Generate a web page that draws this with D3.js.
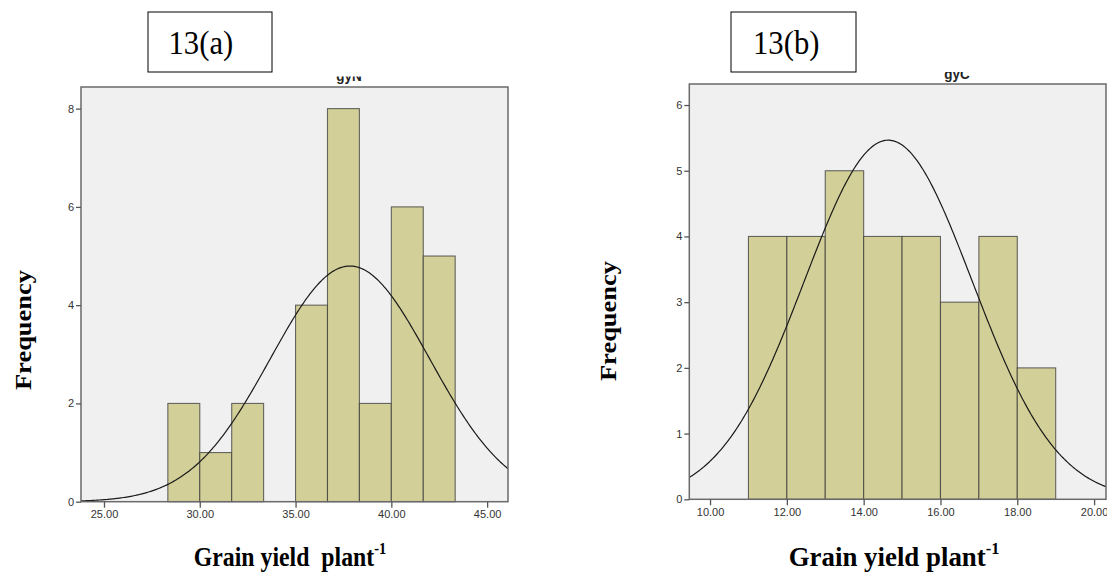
<!DOCTYPE html>
<html>
<head>
<meta charset="utf-8">
<script src="https://cdn.jsdelivr.net/npm/d3@7"></script>
<style>
  html, body { margin: 0; padding: 0; background: #fff; }
  svg { display: block; }
</style>
</head>
<body>
<svg id="chart" width="1107" height="572"></svg>
<script>
// Histogram (a): grain yield per plant, variable gyN
const binEdgesA = [28.333, 30.0, 31.667, 33.333, 35.0, 36.667, 38.333, 40.0, 41.667, 43.333];
const countsA = [2, 1, 2, 0, 4, 8, 2, 6, 5];
const xTicksA = [25, 30, 35, 40, 45];
const yTicksA = [0, 2, 4, 6, 8];
const normalA = { mean: 37.84, sd: 4.16, n: 30 };

// Histogram (b): grain yield per plant, variable gyC
const binEdgesB = [11, 12, 13, 14, 15, 16, 17, 18, 19];
const countsB = [4, 4, 5, 4, 4, 3, 4, 2];
const xTicksB = [10, 12, 14, 16, 18, 20];
const yTicksB = [0, 1, 2, 3, 4, 5, 6];
const normalB = { mean: 14.64, sd: 2.19, n: 30 };

const serif = "'Liberation Serif', 'Times New Roman', serif";
const sans = "Arial, 'Liberation Sans', sans-serif";
const svg = d3.select("#chart");

function drawPanel(cfg) {
  const { left, right, top, bottom, xDomain, yDomain, edges, counts, xTicks, yTicks, normal,
          title, titleX, titleY, titleClipTop, tag, tagBox, tagX, yLabelX, yLabelY,
          xLabelX, xLabelScale, clipId } = cfg;

  const x = d3.scaleLinear().domain(xDomain).range([left, right]);
  const y = d3.scaleLinear().domain(yDomain).range([bottom, top]);

  const g = svg.append("g");

  // plot background
  g.append("rect")
    .attr("x", left).attr("y", top)
    .attr("width", right - left).attr("height", bottom - top)
    .attr("fill", "#f0f0f0");

  // clip for bars and curve
  svg.append("clipPath").attr("id", clipId)
    .append("rect").attr("x", left).attr("y", top)
    .attr("width", right - left).attr("height", bottom - top);

  const bins = counts.map((c, i) => ({ x0: edges[i], x1: edges[i + 1], c }));
  g.append("g").selectAll("rect")
    .data(bins.filter(d => d.c > 0))
    .join("rect")
    .attr("x", d => x(d.x0))
    .attr("y", d => y(d.c))
    .attr("width", d => x(d.x1) - x(d.x0))
    .attr("height", d => y(0) - y(d.c))
    .attr("fill", "#d3cf98")
    .attr("stroke", "#3a3a3a")
    .attr("stroke-opacity", 0.75)
    .attr("stroke-width", 1.1);

  // fitted normal curve scaled to counts per bin
  const w = edges[1] - edges[0];
  const dens = v => normal.n * w / (normal.sd * Math.sqrt(2 * Math.PI)) *
    Math.exp(-0.5 * Math.pow((v - normal.mean) / normal.sd, 2));
  const pts = d3.range(xDomain[0], xDomain[1] + 0.001, (xDomain[1] - xDomain[0]) / 300);
  g.append("path")
    .datum(pts)
    .attr("clip-path", `url(#${clipId})`)
    .attr("fill", "none")
    .attr("stroke", "#1a1a1a")
    .attr("stroke-width", 1.2)
    .attr("d", d3.line().x(v => x(v)).y(v => y(dens(v))));

  // frame
  g.append("rect")
    .attr("x", left).attr("y", top)
    .attr("width", right - left).attr("height", bottom - top)
    .attr("fill", "none")
    .attr("stroke", "#6a6a6a")
    .attr("stroke-width", 1.5);

  // axes
  const yAxis = d3.axisLeft(y).tickValues(yTicks).tickSize(5).tickPadding(2).tickFormat(d3.format("d"));
  const yg = g.append("g").attr("transform", `translate(${left},0)`).call(yAxis);
  const xAxis = d3.axisBottom(x).tickValues(xTicks).tickSize(6).tickPadding(3).tickFormat(d3.format(".2f"));
  const xg = g.append("g").attr("transform", `translate(0,${bottom})`).call(xAxis);
  [yg, xg].forEach(a => {
    a.select(".domain").remove();
    a.selectAll("line").attr("stroke", "#555").attr("stroke-width", 1.3);
    a.selectAll("text").attr("fill", "#333")
      .style("font-family", sans).style("font-size", "11px");
  });

  // small chart title, partly hidden behind the panel tag
  const tclip = clipId + "-t";
  svg.append("clipPath").attr("id", tclip)
    .append("rect").attr("x", left).attr("y", titleClipTop)
    .attr("width", right - left).attr("height", top - titleClipTop);
  g.append("g").attr("clip-path", `url(#${tclip})`)
    .append("text")
    .attr("transform", `translate(${titleX},${titleY}) scale(0.9,1)`)
    .attr("text-anchor", "middle")
    .style("font-family", sans)
    .style("font-weight", "bold").style("font-size", "15px")
    .attr("fill", "#222")
    .text(title);

  // panel tag box
  g.append("rect")
    .attr("x", tagBox[0]).attr("y", tagBox[1])
    .attr("width", tagBox[2]).attr("height", tagBox[3])
    .attr("fill", "#fff").attr("stroke", "#000").attr("stroke-width", 1);
  g.append("text")
    .attr("transform", `translate(${tagX},53.5) scale(0.93,1)`)
    .attr("text-anchor", "start")
    .style("font-family", serif)
    .style("font-size", "33px")
    .attr("fill", "#000")
    .text(tag);

  // axis titles
  g.append("text")
    .attr("transform", `translate(${yLabelX},${yLabelY}) scale(0.85,1) rotate(-90)`)
    .attr("text-anchor", "middle")
    .style("font-family", serif)
    .style("font-weight", "bold").style("font-size", "26.5px")
    .attr("fill", "#000")
    .text("Frequency");

  const xl = g.append("text")
    .attr("transform", `translate(${xLabelX},565.5) scale(${xLabelScale},1)`)
    .attr("text-anchor", "middle")
    .style("font-family", serif)
    .style("font-weight", "bold").style("font-size", "28px")
    .attr("fill", "#000");
  xl.append("tspan").text(cfg.xLabel);
  xl.append("tspan").attr("dy", -12).style("font-size", "17px").text("-1");
}

drawPanel({
  left: 81, right: 508, top: 87, bottom: 501.7,
  xDomain: [23.8, 46.09], yDomain: [0, 8.44],
  edges: binEdgesA, counts: countsA, xTicks: xTicksA, yTicks: yTicksA, normal: normalA,
  title: "gyN", titleX: 349, titleY: 81, titleClipTop: 76.5,
  tag: "13(a)", tagBox: [148, 12, 124, 60], tagX: 168.5,
  yLabelX: 31, yLabelY: 330, xLabelX: 290, xLabelScale: 0.85,
  xLabel: "Grain yield\u00a0 plant", clipId: "clipA"
});

drawPanel({
  left: 689.3, right: 1106, top: 84, bottom: 499.3,
  xDomain: [9.46, 20.31], yDomain: [0, 6.32],
  edges: binEdgesB, counts: countsB, xTicks: xTicksB, yTicks: yTicksB, normal: normalB,
  title: "gyC", titleX: 957, titleY: 78.5, titleClipTop: 72,
  tag: "13(b)", tagBox: [731, 12, 125, 60], tagX: 753,
  yLabelX: 616, yLabelY: 321, xLabelX: 894, xLabelScale: 0.96,
  xLabel: "Grain yield plant", clipId: "clipB"
});
</script>
</body>
</html>
